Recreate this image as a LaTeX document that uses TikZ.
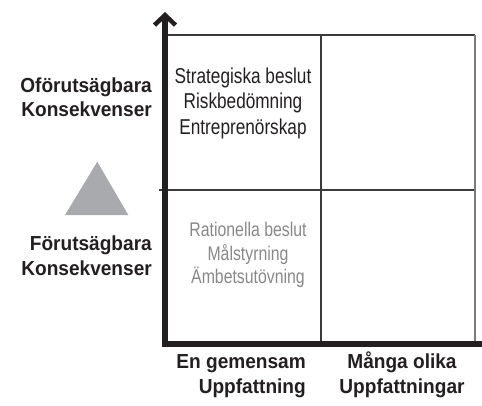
\documentclass[tikz,border=0pt]{standalone}
\usepackage{fontspec}
\setmainfont{Liberation Sans}
\newfontfamily\narrowfont[FakeStretch=0.8]{Liberation Sans}
\newfontfamily\labelfont[FakeStretch=0.94]{Liberation Sans Bold}
\usetikzlibrary{arrows.meta}
\definecolor{ink}{HTML}{231F20}
\definecolor{paleink}{HTML}{888888}
\definecolor{gridline}{HTML}{3A3A3A}
\definecolor{edgegray}{HTML}{7A7A7A}
\definecolor{trianglegray}{HTML}{A8AAAD}
\begin{document}
\begin{tikzpicture}[x=1pt,y=-1pt,
  axisline/.style={line width=6pt,draw=ink,line join=miter},
  gridrule/.style={line width=1.4pt,draw=gridline},
  celltext/.style={inner sep=0pt,align=center,text=ink,
    font=\narrowfont\fontsize{21.5}{25.4}\selectfont},
  celltextpale/.style={inner sep=0pt,align=center,text=paleink,
    font=\narrowfont\fontsize{19.8}{23.3}\selectfont},
  axislabel/.style={inner sep=0pt,text=ink,
    font=\labelfont\fontsize{20.3}{24.5}\selectfont}]
\useasboundingbox (0,0) rectangle (482,405);

% corners of the grid
\coordinate (origin) at (165,344);
\coordinate (ytip) at (165,12);
\coordinate (xend) at (482,344);
\coordinate (tl) at (168,35);
\coordinate (tm) at (321,35);
\coordinate (tr) at (475,35);
\coordinate (ml) at (159,190);
\coordinate (mm) at (321,190);
\coordinate (mr) at (475,190);
\coordinate (bm) at (321,341);
\coordinate (br) at (475,341);

% grid
\draw[gridrule] (tl) -- (tr);
\draw[gridrule] (ml) -- (mr);
\draw[gridrule] (tm) -- (bm);
\draw[line width=1.4pt,draw=edgegray] (tr) -- (br);

% axes
\draw[axisline,-{Straight Barb[length=10pt,width=21pt,line width=4.5pt]}]
  (xend) -- (origin) -- (ytip);

% cell texts (base anchor sits on the last line)
\node[celltext,anchor=base] (strategic) at (243,134)
  {Strategiska beslut\\Riskbedömning\\Entreprenörskap};
\node[celltextpale,anchor=base] (rational) at (248,283.3)
  {Rationella beslut\\Målstyrning\\Ämbetsutövning};

% axis labels
\node[axislabel,align=right,anchor=base east] (unpredictable) at (152,116.7)
  {Oförutsägbara\\Konsekvenser};
\node[axislabel,align=right,anchor=base east] (predictable) at (152,275)
  {Förutsägbara\\Konsekvenser};
\node[axislabel,align=right,anchor=base east] (shared) at (306,393)
  {En gemensam\\Uppfattning};
\node[axislabel,align=center,anchor=base] (many) at (402,393)
  {Många olika\\Uppfattningar};

% triangle
\fill[trianglegray] (65,215) -- (128.3,215) -- (97.3,161.7) -- cycle;
\end{tikzpicture}
\end{document}
